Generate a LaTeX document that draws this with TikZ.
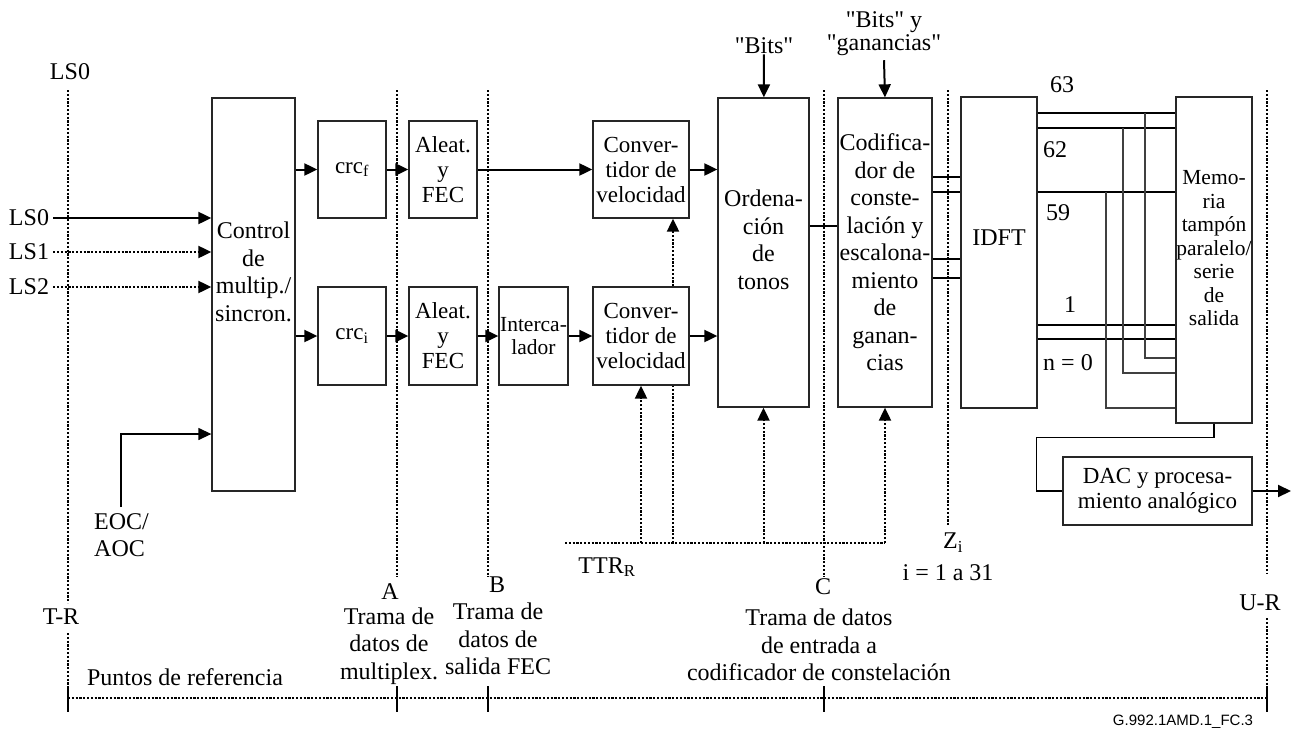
\documentclass[tikz,border=0pt]{standalone}
\usepackage{fontspec}
\setmainfont{Liberation Serif}
\newfontfamily\tagfont{Liberation Sans}
\usetikzlibrary{positioning, calc, arrows.meta}

\begin{document}
\begin{tikzpicture}[x=1pt, y=-1pt,
    every node/.style={inner sep=0pt, align=center, font=\fontsize{24}{27.5}\selectfont},
    blk/.style={draw=black!85, line width=1.3pt, fill=white},
    small/.style={font=\fontsize{21.5}{23.5}\selectfont},
    mid/.style={font=\fontsize{23}{25}\selectfont},
    sig/.style={line width=2pt, -{Triangle[length=13pt, width=12pt]}},
    dsig/.style={sig, dash pattern=on 2.2pt off 1.6pt},
    refl/.style={line width=2pt, dash pattern=on 2.2pt off 1.6pt},
    wire/.style={line width=2pt},
    tap/.style={line width=1.1pt, draw=black!75}]

    \useasboundingbox (0,0) rectangle (1295,731);

    % Reference lines
    \draw[refl] (68,90) -- (68,603);
    \draw[refl] (68,633) -- (68,712);
    \draw[refl] (1267,90) -- (1267,573);
    \draw[refl] (1267,618) -- (1267,712);
    \foreach \xx/\yb in {397/577, 488/577, 824/577, 948/526}
        \draw[refl] (\xx,90) -- (\xx,\yb);
    \draw[refl] (68,698) -- (1267,698);
    \foreach \xx in {68,397,488,824,1267}
        \draw[line width=1.8pt] (\xx,686) -- (\xx,712);

    % Blocks
    \node[blk, minimum width=83pt, minimum height=393pt] (ctl) at (253.5,294.5) {};
    \node (ctlt) at (253.5,272) {Control\\de\\multip./\\sincron.};
    \node[blk, mid, minimum width=68pt, minimum height=97pt] (crcf) at (352,169.5) {crc\textsubscript{f}};
    \node[blk, mid, minimum width=68pt, minimum height=98pt] (crci) at (352,336) {crc\textsubscript{i}};
    \node[blk, mid, minimum width=68pt, minimum height=97pt] (alf) at (443,169.5) {Aleat.\\y\\FEC};
    \node[blk, mid, minimum width=68pt, minimum height=98pt] (ali) at (443,336) {Aleat.\\y\\FEC};
    \node[blk, small, minimum width=69pt, minimum height=98pt] (itl) at (533.5,336) {Interca-\\lador};
    \node[blk, mid, minimum width=96pt, minimum height=97pt] (cvf) at (641,169.5) {Conver-\\tidor de\\velocidad};
    \node[blk, mid, minimum width=96pt, minimum height=98pt] (cvi) at (641,336) {Conver-\\tidor de\\velocidad};
    \node[blk, minimum width=91pt, minimum height=309pt] (ord) at (763.5,252.5) {};
    \node (ordt) at (763.5,240) {Ordena-\\ción\\de\\tonos};
    \node[blk, minimum width=94pt, minimum height=309pt] (cod) at (885,252.5)
        {Codifica-\\dor de\\conste-\\lación y\\escalona-\\miento\\de\\ganan-\\cias};
    \node[blk, minimum width=76pt, minimum height=311pt] (idft) at (999,252.5) {};
    \node (idftt) at (999,238) {IDFT};
    \node[blk, minimum width=76pt, minimum height=326pt] (mem) at (1214,260) {};
    \node[small] (memt) at (1214,248.5) {Memo-\\ria\\tampón\\paralelo/\\serie\\de\\salida};
    \node[blk, mid, minimum width=189pt, minimum height=68pt] (dac) at (1157.5,491) {DAC y procesa-\\miento analógico};

    % Inputs
    \node (lstop) at (70,72) {LS0};
    \node[inner xsep=4pt] (ls0) at (29,218) {LS0};
    \node[inner xsep=4pt] (ls1) at (29,252) {LS1};
    \node[inner xsep=4pt] (ls2) at (29,287) {LS2};
    \draw[sig] (ls0.east) -- (ls0.east -| ctl.west);
    \draw[dsig] (ls1.east) -- (ls1.east -| ctl.west);
    \draw[dsig] (ls2.east) -- (ls2.east -| ctl.west);
    \node[anchor=north west, align=left] (eoc) at (94,513) {EOC/\\AOC};
    \draw[line width=1.3pt, -{Triangle[length=13pt, width=12pt]}] ([xshift=27pt, yshift=6pt]eoc.north west) |- (ctl.west |- 0,434);

    % Data path
    \draw[sig] (ctl.east |- crcf) -- (crcf);
    \draw[sig] (ctl.east |- crci) -- (crci);
    \draw[sig] (crcf) -- (alf);
    \draw[sig] (crci) -- (ali);
    \draw[sig] (alf) -- (cvf);
    \draw[sig] (ali) -- (itl);
    \draw[sig] (itl) -- (cvi);
    \draw[sig] (cvf.east) -- (cvf.east -| ord.west);
    \draw[sig] (cvi.east) -- (cvi.east -| ord.west);
    \draw[line width=1.6pt] ([yshift=26.5pt]ord.east) -- ([yshift=26.5pt]ord.east -| cod.west);
    \foreach \yy in {177,192,259,278}
        \draw[wire] (cod.east |- 0,\yy) -- (idft.west |- 0,\yy);

    % Bits and gains
    \node (bits) at (764,46) {\textquotedbl Bits\textquotedbl};
    \node[font=\fontsize{24}{23}\selectfont] (bg) at (884,34) {\textquotedbl Bits\textquotedbl\ y\\\textquotedbl ganancias\textquotedbl};
    \draw[sig] (bits) -- (ord);
    \draw[sig] ([yshift=-4pt]bg.south) -- (cod.north);

    % TTR_R
    \node (ttrl) at (607,567) {TTR\textsubscript{R}};
    \coordinate (ttr) at (565,543);
    \coordinate (up1) at ([xshift=32pt]cvi.south);
    \coordinate (up2) at ([xshift=32pt]cvi.north);
    \coordinate (up3) at ([xshift=32pt]cvf.south);
    \draw[refl] (ttr) -- (cod.south |- ttr);
    \draw[dsig] (cvi.south |- ttr) -- (cvi.south);
    \draw[refl] (up1 |- ttr) -- (up1);
    \draw[dsig] (up2) -- (up3);
    \draw[dsig] (ord.south |- ttr) -- (ord.south);
    \draw[dsig] (cod.south |- ttr) -- (cod.south);

    % IDFT outputs
    \foreach \yy in {113,128,192,325,339}
        \draw[wire] (idft.east |- 0,\yy) -- (mem.west |- 0,\yy);
    \foreach \xx/\ya/\yb in {1145/113/358, 1123/128/373, 1106/192/408}
        \draw[tap] (\xx,\ya) |- (mem.west |- 0,\yb);
    \node (n63) at (1062,85) {63};
    \node (n62) at (1055,150) {62};
    \node (n59) at (1058,213) {59};
    \node (n1) at (1070,305) {1};
    \node (n0) at (1068,363) {n = 0};

    % To DAC and out
    \coordinate (out) at (1291,491);
    \draw[line width=1.2pt] (mem.south) -- ++(0,14) -| ([xshift=-26pt]dac.west) -- (dac.west);
    \draw[sig] (dac.east) -- (out);

    % Reference point labels
    \node (tr) at (61,617) {T-R};
    \node (ur) at (1260,603) {U-R};
    \node (pA) at (390,592) {A};
    \node (tA) at (389,646) {Trama de\\datos de\\multiplex.};
    \node (pB) at (497,585) {B};
    \node (tB) at (498,639) {Trama de\\datos de\\salida FEC};
    \node (pC) at (823,587) {C};
    \node (tC) at (819,645) {Trama de datos\\de entrada a\\codificador de constelación};
    \node (pZ) at (953,543) {Z\textsubscript{i}};
    \node (iz) at (948,573) {i = 1 a 31};
    \node (punt) at (185,677) {Puntos de referencia};
    \node[font={\tagfont\fontsize{15}{17}\selectfont}] (tag) at (1183,722) {G.992.1AMD.1\_FC.3};

\end{tikzpicture}
\end{document}
